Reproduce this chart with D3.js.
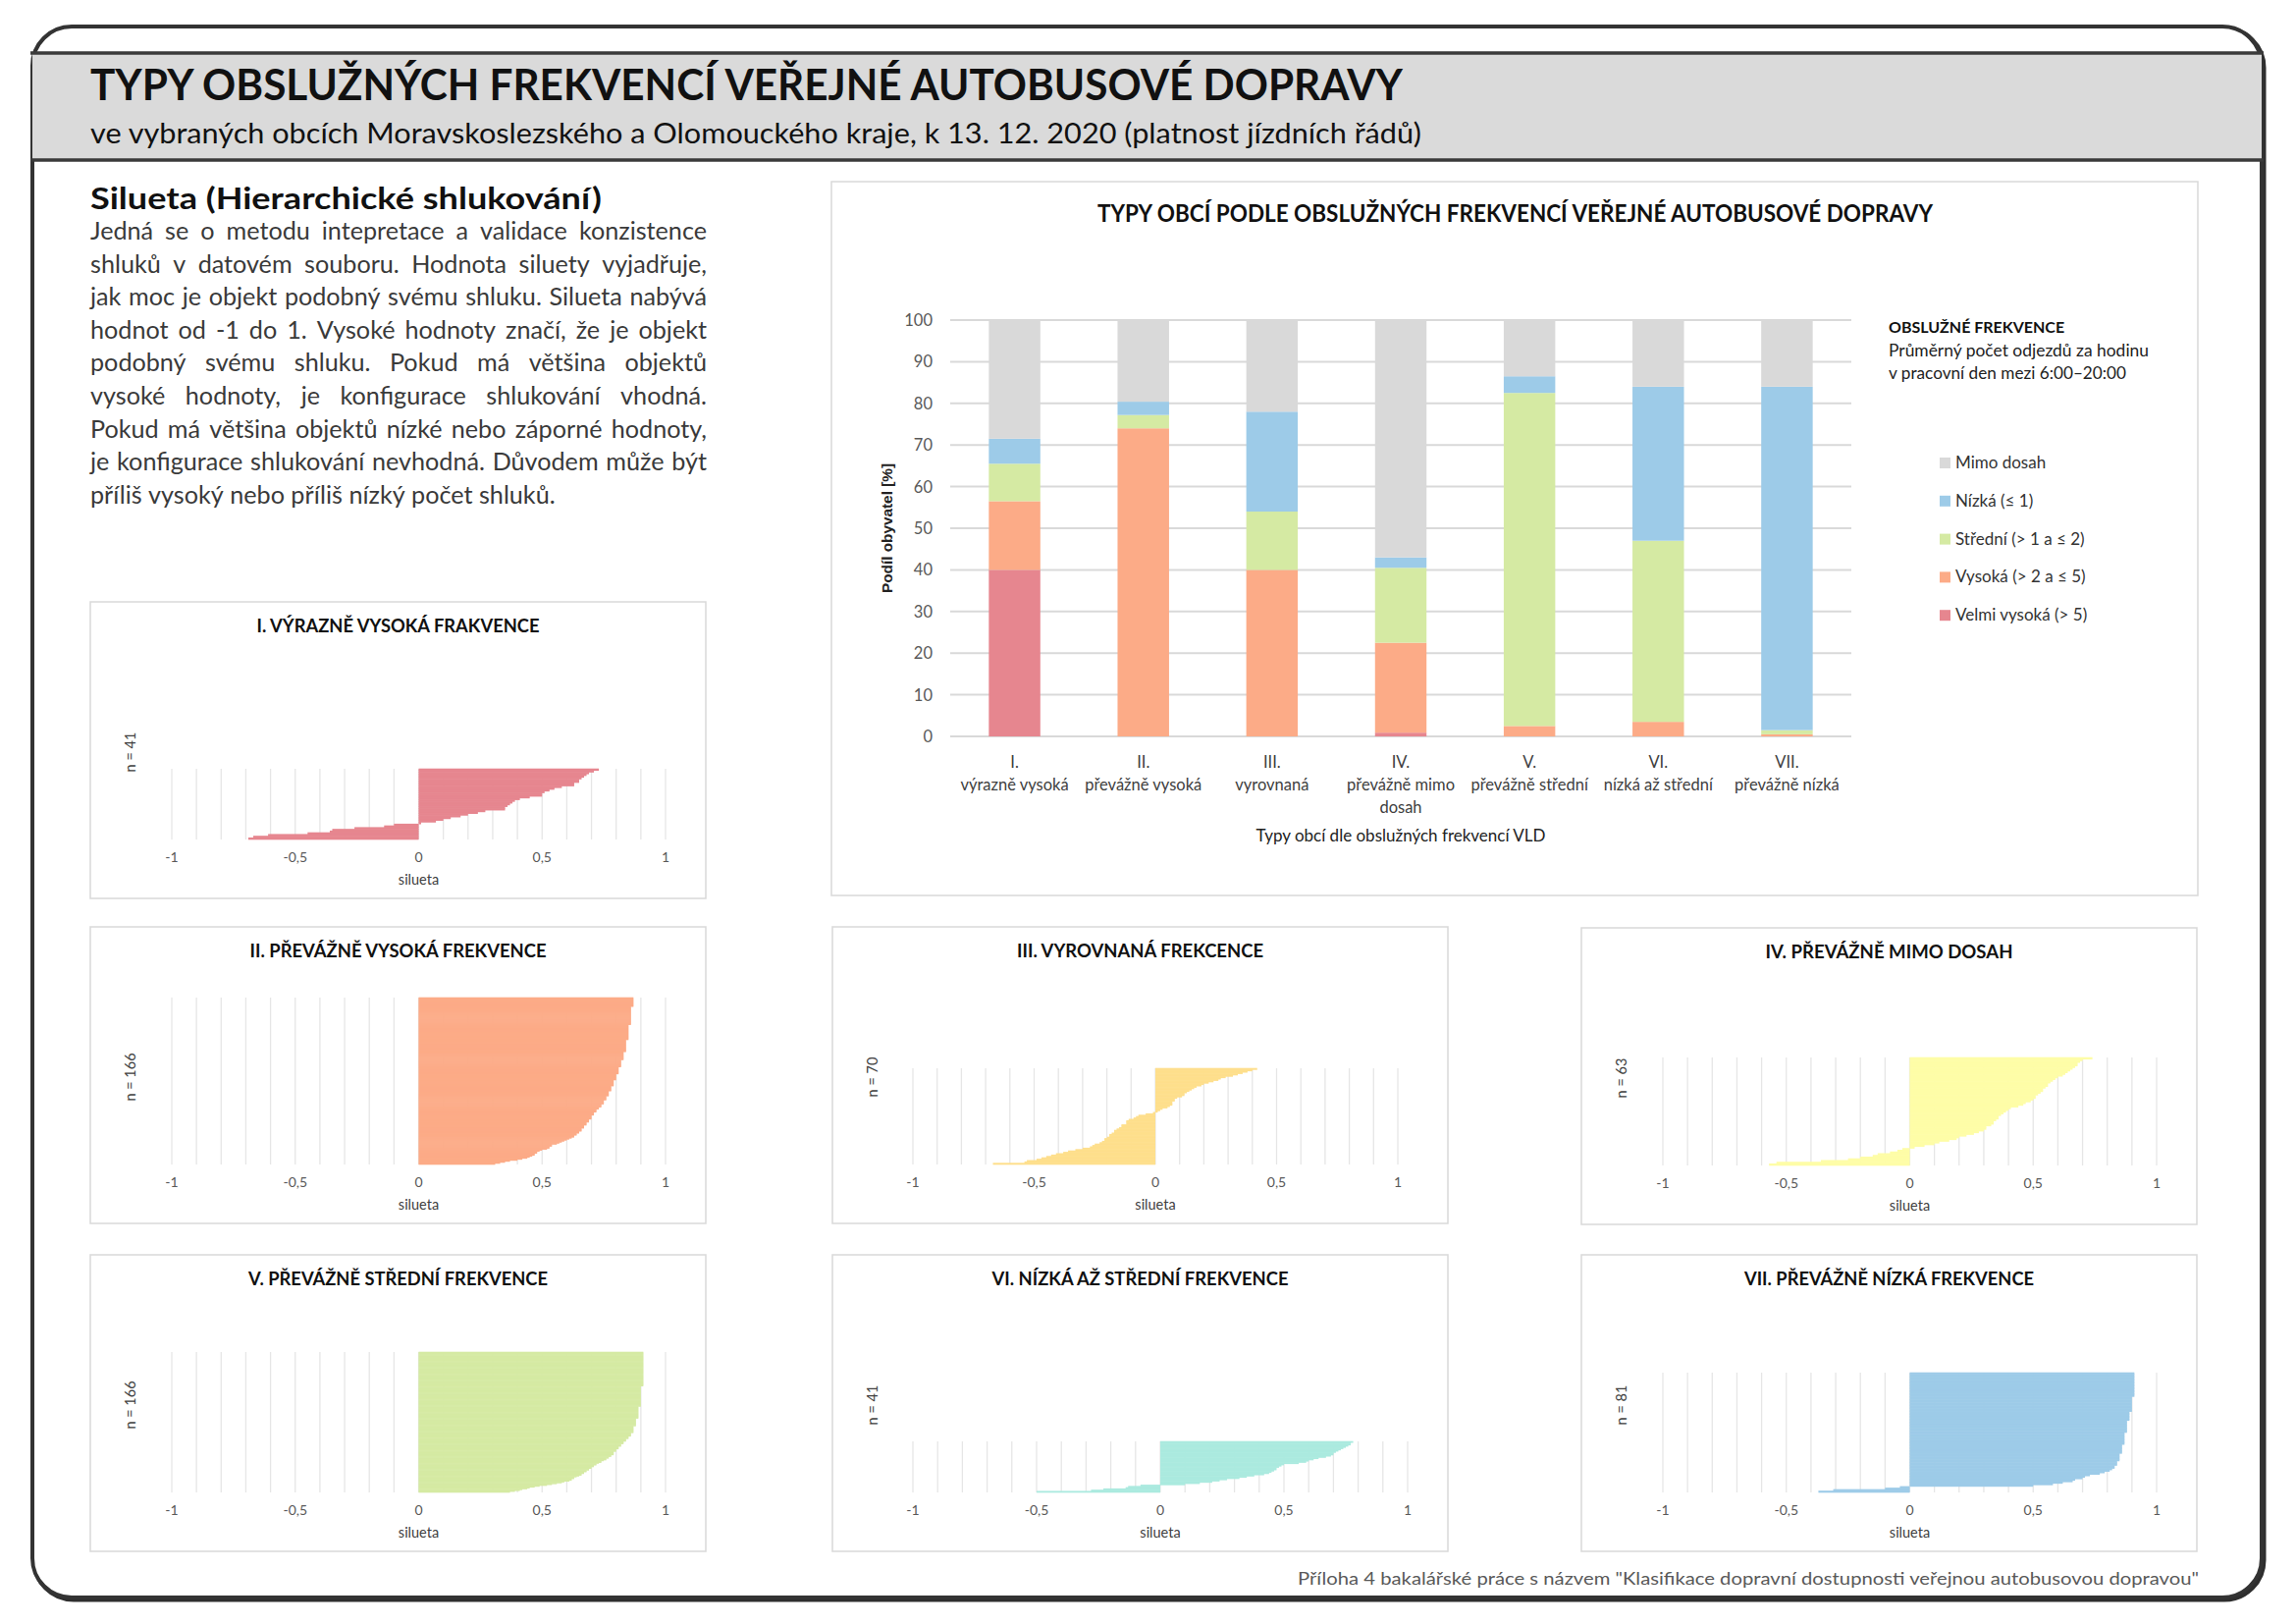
<!DOCTYPE html>
<html><head><meta charset="utf-8">
<script src="https://cdn.jsdelivr.net/npm/d3@7"></script>
<style>
body{margin:0;background:#fff}
svg{display:block}
text{font-family:Lato,'Open Sans','Noto Sans',sans-serif}
</style>
</head><body>
<svg id="c" width="2339" height="1654"></svg>
<script>
// ---------------- DATA ----------------
const headerTitle = "TYPY OBSLUŽNÝCH FREKVENCÍ VEŘEJNÉ AUTOBUSOVÉ DOPRAVY";
const headerSubtitle = "ve vybraných obcích Moravskoslezského a Olomouckého kraje, k 13. 12. 2020 (platnost jízdních řádů)";
const introTitle = "Silueta (Hierarchické shlukování)";
const introLines = [
  "Jedná se o metodu intepretace a validace konzistence",
  "shluků v datovém souboru. Hodnota siluety vyjadřuje,",
  "jak moc je objekt podobný svému shluku. Silueta nabývá",
  "hodnot od -1 do 1. Vysoké hodnoty značí, že je objekt",
  "podobný svému shluku. Pokud má většina objektů",
  "vysoké hodnoty, je konfigurace shlukování vhodná.",
  "Pokud má většina objektů nízké nebo záporné hodnoty,",
  "je konfigurace shlukování nevhodná. Důvodem může být",
  "příliš vysoký nebo příliš nízký počet shluků."
];
const footerText = 'Příloha 4 bakalářské práce s názvem "Klasifikace dopravní dostupnosti veřejnou autobusovou dopravou"';

const chartTitle = "TYPY OBCÍ PODLE OBSLUŽNÝCH FREKVENCÍ VEŘEJNÉ AUTOBUSOVÉ DOPRAVY";
const yAxisTitle = "Podíl obyvatel [%]";
const xAxisTitle = "Typy obcí dle obslužných frekvencí VLD";
const categories = ["I.", "II.", "III.", "IV.", "V.", "VI.", "VII."];
const categoryLabels = [["výrazně vysoká"], ["převážně vysoká"], ["vyrovnaná"], ["převážně mimo", "dosah"], ["převážně střední"], ["nízká až střední"], ["převážně nízká"]];
const yTicks = [0, 10, 20, 30, 40, 50, 60, 70, 80, 90, 100];

// series (bottom -> top)
const seriesNames = ["Velmi vysoká (> 5)", "Vysoká (> 2 a ≤ 5)", "Střední (> 1 a ≤ 2)", "Nízká (≤ 1)", "Mimo dosah"];
const velmiVysoka = [40, 0, 0, 0.9, 0, 0, 0];
const vysoka      = [16.5, 74, 40, 21.6, 2.5, 3.5, 0.5];
const stredni     = [9, 3.2, 14, 18, 80, 43.5, 1];
const nizka       = [6, 3.2, 24, 2.5, 4, 37, 82.5];
const mimoDosah   = [28.5, 19.6, 22, 57, 13.5, 16, 16];

const legendTitle = "OBSLUŽNÉ FREKVENCE";
const legendSubtitle = ["Průměrný počet odjezdů za hodinu", "v pracovní den mezi 6:00–20:00"];

// silhouette panels
const silTitles = ["I. VÝRAZNĚ VYSOKÁ FRAKVENCE", "II. PŘEVÁŽNĚ VYSOKÁ FREKVENCE", "III. VYROVNANÁ FREKCENCE", "IV. PŘEVÁŽNĚ MIMO DOSAH", "V. PŘEVÁŽNĚ STŘEDNÍ FREKVENCE", "VI. NÍZKÁ AŽ STŘEDNÍ FREKVENCE", "VII. PŘEVÁŽNĚ NÍZKÁ FREKVENCE"];
const silN = [41, 166, 70, 63, 166, 41, 81];
const silTicks = [-1, -0.5, 0, 0.5, 1];
const silAxisTitle = "silueta";

const silI = [-0.69, -0.67, -0.61, -0.45, -0.36, -0.35, -0.26, -0.14, -0.1,
  0.01, 0.07, 0.1, 0.13, 0.17, 0.2, 0.24, 0.27, 0.35, 0.35, 0.36, 0.37, 0.38, 0.39, 0.41, 0.45,
  0.5, 0.5, 0.51, 0.53, 0.55, 0.58, 0.63, 0.63, 0.65, 0.65, 0.66, 0.67, 0.68, 0.69, 0.71, 0.73];

const silII = [0.31, 0.33, 0.35, 0.37, 0.4, 0.42, 0.44, 0.45, 0.46, 0.47, 0.47, 0.48, 0.48,
  0.49, 0.5, 0.52, 0.53, 0.53, 0.54, 0.54, 0.56, 0.57, 0.58, 0.59, 0.6, 0.61, 0.62, 0.63,
  0.63, 0.64, 0.64, 0.65, 0.65, 0.66, 0.66, 0.66, 0.67, 0.67, 0.67, 0.68, 0.68, 0.68, 0.69, 0.69, 0.69,
  0.7, 0.7, 0.7, 0.7, 0.71, 0.71, 0.71, 0.72, 0.72, 0.72, 0.73, 0.73, 0.74, 0.74,
  0.74, 0.75, 0.75, 0.75, 0.75, 0.76, 0.76, 0.76, 0.76, 0.77, 0.77, 0.77, 0.77,
  0.77, 0.78, 0.78, 0.78, 0.78, 0.78, 0.79, 0.79, 0.79, 0.79, 0.79, 0.79, 0.8,
  0.8, 0.8, 0.8, 0.8, 0.8, 0.81, 0.81, 0.81, 0.81, 0.81, 0.81, 0.81, 0.82,
  0.82, 0.82, 0.82, 0.82, 0.82, 0.82, 0.83, 0.83, 0.83, 0.83, 0.83, 0.83, 0.83,
  0.83, 0.84, 0.84, 0.84, 0.84, 0.84, 0.84, 0.84, 0.84, 0.84, 0.84, 0.84, 0.84,
  0.85, 0.85, 0.85, 0.85, 0.85, 0.85, 0.85, 0.85, 0.85, 0.85, 0.85, 0.85, 0.85,
  0.85, 0.85, 0.86, 0.86, 0.86, 0.86, 0.86, 0.86, 0.86, 0.86, 0.86, 0.86, 0.86,
  0.86, 0.86, 0.86, 0.86, 0.86, 0.86, 0.86, 0.87, 0.87, 0.87, 0.87, 0.87, 0.87, 0.87, 0.87, 0.87];

const silIII = [-0.67, -0.54, -0.53, -0.49, -0.47, -0.45, -0.43, -0.41, -0.38, -0.36, -0.33, -0.3,
  -0.27, -0.26, -0.25, -0.23, -0.22, -0.21, -0.21, -0.2, -0.19, -0.19, -0.18, -0.17, -0.17, -0.16,
  -0.15, -0.14, -0.14, -0.12, -0.12, -0.12, -0.11, -0.09, -0.08, -0.07, -0.04, -0.01,
  0.01, 0.02, 0.03, 0.05, 0.06, 0.07, 0.07, 0.07, 0.08, 0.08, 0.09, 0.11, 0.12, 0.12, 0.13, 0.14,
  0.15, 0.16, 0.17, 0.19, 0.2, 0.22, 0.24, 0.26, 0.27, 0.29, 0.32, 0.34, 0.36, 0.38, 0.4, 0.42];

const silIV = [-0.57, -0.54, -0.36, -0.25, -0.2, -0.15, -0.13, -0.08, -0.05, -0.03,
  0.02, 0.06, 0.1, 0.12, 0.16, 0.19, 0.2, 0.23, 0.26, 0.28, 0.3, 0.31, 0.31, 0.33, 0.34, 0.34,
  0.35, 0.36, 0.36, 0.37, 0.38, 0.39, 0.4, 0.41, 0.44, 0.46, 0.47, 0.49, 0.5, 0.51, 0.51, 0.52,
  0.53, 0.54, 0.54, 0.55, 0.56, 0.56, 0.57, 0.58, 0.59, 0.6, 0.62, 0.63, 0.64, 0.65, 0.66, 0.67,
  0.68, 0.68, 0.69, 0.7, 0.74];

const silV = [0.37, 0.39, 0.41, 0.42, 0.44, 0.45, 0.47, 0.49, 0.52, 0.54, 0.56, 0.58, 0.59,
  0.61, 0.62, 0.62, 0.63, 0.63, 0.64, 0.65, 0.66, 0.66, 0.67, 0.67, 0.68, 0.68, 0.69, 0.69, 0.7,
  0.7, 0.71, 0.71, 0.72, 0.72, 0.73, 0.74, 0.74, 0.75, 0.76, 0.76, 0.77, 0.77, 0.78,
  0.78, 0.79, 0.79, 0.79, 0.79, 0.8, 0.8, 0.8, 0.81, 0.81,
  0.81, 0.82, 0.82, 0.82, 0.83, 0.83, 0.83, 0.84, 0.84, 0.84, 0.85, 0.85,
  0.85, 0.86, 0.86, 0.86, 0.86, 0.87, 0.87, 0.87, 0.87, 0.87, 0.87,
  0.87, 0.87, 0.88, 0.88, 0.88, 0.88, 0.88, 0.88, 0.88, 0.88, 0.88, 0.89, 0.89, 0.89, 0.89, 0.89,
  0.89, 0.89, 0.89, 0.89, 0.89, 0.89, 0.89, 0.89, 0.89, 0.9, 0.9, 0.9, 0.9, 0.9, 0.9,
  0.9, 0.9, 0.9, 0.9, 0.9, 0.9, 0.9, 0.9, 0.9, 0.9, 0.9, 0.9, 0.9, 0.9, 0.9, 0.9,
  0.9, 0.9, 0.91, 0.91, 0.91, 0.91, 0.91, 0.91, 0.91, 0.91, 0.91, 0.91, 0.91, 0.91, 0.91,
  0.91, 0.91, 0.91, 0.91, 0.91, 0.91, 0.91, 0.91, 0.91, 0.91, 0.91, 0.91, 0.91, 0.91,
  0.91, 0.91, 0.91, 0.91, 0.91, 0.91, 0.91, 0.91, 0.91, 0.91, 0.91, 0.91, 0.91];

const silVI = [-0.5, -0.28, -0.23, -0.14, -0.13, -0.08,
  0.1, 0.16, 0.21, 0.24, 0.27, 0.32, 0.35, 0.38, 0.42, 0.44, 0.45, 0.46, 0.47, 0.47, 0.48, 0.49,
  0.5, 0.56, 0.59, 0.6, 0.62, 0.64, 0.67, 0.69, 0.7, 0.7, 0.71, 0.72, 0.73, 0.74, 0.75, 0.76,
  0.77, 0.77, 0.78];

const silVII = [-0.37, -0.31, -0.1, -0.04,
  0.5, 0.58, 0.62, 0.66, 0.67, 0.7, 0.71, 0.73, 0.77, 0.79, 0.81, 0.82, 0.83, 0.83, 0.84, 0.84,
  0.84, 0.85, 0.85, 0.85, 0.85, 0.85, 0.86, 0.86, 0.86, 0.86, 0.86, 0.86, 0.87, 0.87, 0.87, 0.87,
  0.87, 0.87, 0.87, 0.87, 0.88, 0.88, 0.88, 0.88, 0.88, 0.88, 0.88, 0.88, 0.89, 0.89, 0.89, 0.89,
  0.89, 0.89, 0.9, 0.9, 0.9, 0.9, 0.9, 0.9, 0.9, 0.9, 0.9, 0.9, 0.91, 0.91, 0.91, 0.91, 0.91,
  0.91, 0.91, 0.91, 0.91, 0.91, 0.91, 0.91, 0.91, 0.91, 0.91, 0.91];

// ---------------- STYLE / LAYOUT ----------------
const seriesColors = ["#e6868f", "#fcab87", "#d5eaa3", "#9dcbe8", "#d9d9d9"];
const silColors = ["#e6868f", "#fcab87", "#fedf8c", "#fefda7", "#d5eaa3", "#abeadf", "#9dcbe8"];
const silData = [silI, silII, silIII, silIV, silV, silVI, silVII];
const silLayout = [
  {x: 92, y: 613, x0: 83, x1: 586, top: 170, tw: 288},
  {x: 92, y: 944, x0: 83, x1: 586, top: 72, tw: 302},
  {x: 848, y: 944, x0: 82, x1: 576, top: 144, tw: 251},
  {x: 1611, y: 945, x0: 83, x1: 586, top: 132, tw: 252},
  {x: 92, y: 1278, x0: 83, x1: 586, top: 99, tw: 305},
  {x: 848, y: 1278, x0: 82, x1: 586, top: 190, tw: 302},
  {x: 1611, y: 1278, x0: 83, x1: 586, top: 120, tw: 295}
];

const svg = d3.select("#c");
function fitW(t, w) { return t.attr("textLength", w).attr("lengthAdjust", "spacingAndGlyphs"); }
function measure(str, fs, weight) {
  const t = svg.append("text").attr("font-size", fs).attr("font-weight", weight || 400).text(str);
  const w = t.node().getComputedTextLength(); t.remove(); return w;
}

// outer frame (with slight bottom-right shadow)
svg.append("rect").attr("x", 35).attr("y", 29).attr("width", 2271).attr("height", 1600)
  .attr("rx", 40).attr("fill", "none").attr("stroke", "#2e2e2e").attr("stroke-width", 5);
svg.append("rect").attr("x", 33).attr("y", 27).attr("width", 2271).attr("height", 1600)
  .attr("rx", 40).attr("fill", "#fff").attr("stroke", "#333").attr("stroke-width", 4);

// header band
svg.append("rect").attr("x", 33).attr("y", 54).attr("width", 2271).attr("height", 109).attr("fill", "#dadada");
svg.append("line").attr("x1", 31).attr("x2", 2306).attr("y1", 54).attr("y2", 54).attr("stroke", "#3a3a3a").attr("stroke-width", 3.5);
svg.append("line").attr("x1", 31).attr("x2", 2306).attr("y1", 163).attr("y2", 163).attr("stroke", "#3a3a3a").attr("stroke-width", 3.5);
fitW(svg.append("text").attr("x", 92).attr("y", 102).attr("font-size", 43).attr("font-weight", 700).attr("fill", "#111").text(headerTitle), 1337);
fitW(svg.append("text").attr("x", 92).attr("y", 146).attr("font-size", 28.5).attr("fill", "#111").text(headerSubtitle), 1356);

// intro
fitW(svg.append("text").attr("x", 92).attr("y", 213).attr("font-size", 31).attr("font-weight", 700).attr("fill", "#111").text(introTitle), 521);
(function () {
  const px = 92, pw = 628, y0 = 244, lh = 33.6;
  let fs = 24 * 472 / measure(introLines[introLines.length - 1], 24);
  const maxW = d3.max(introLines, l => measure(l, fs));
  if (maxW > pw) fs *= pw / maxW;
  const spaceW = measure("a a", fs) - measure("aa", fs);
  const g = svg.append("g").attr("fill", "#3a3a3a").attr("font-size", fs);
  introLines.forEach((line, li) => {
    const words = line.split(" ");
    const ws = words.map(w => measure(w, fs));
    const last = li === introLines.length - 1;
    const gap = last ? spaceW : (pw - d3.sum(ws)) / (words.length - 1);
    let x = px;
    words.forEach((w, i) => {
      g.append("text").attr("x", x).attr("y", y0 + li * lh).text(w);
      x += ws[i] + gap;
    });
  });
})();

// ---------------- MAIN STACKED CHART ----------------
svg.append("rect").attr("x", 847).attr("y", 185).attr("width", 1392).attr("height", 727)
  .attr("fill", "#fff").attr("stroke", "#d9d9d9").attr("stroke-width", 1.5);
fitW(svg.append("text").attr("x", 1543 - 425).attr("y", 226).attr("font-size", 24).attr("font-weight", 700).attr("fill", "#111").text(chartTitle), 851);

const table = categories.map((c, i) => ({cat: c, s0: velmiVysoka[i], s1: vysoka[i], s2: stredni[i], s3: nizka[i], s4: mimoDosah[i]}));
const keys = ["s0", "s1", "s2", "s3", "s4"];
const stacked = d3.stack().keys(keys)(table);
const xB = d3.scaleBand().domain(categories).range([968, 1886]).paddingInner(0.6).paddingOuter(0.3);
const yL = d3.scaleLinear().domain([0, 100]).range([750, 326]);

const mg = svg.append("g");
mg.selectAll("line.grid").data(yTicks).join("line")
  .attr("x1", 968).attr("x2", 1886).attr("y1", d => yL(d)).attr("y2", d => yL(d))
  .attr("stroke", "#d9d9d9").attr("stroke-width", 2);
mg.selectAll("text.yt").data(yTicks).join("text")
  .attr("x", 950).attr("y", d => yL(d) + 6).attr("text-anchor", "end")
  .attr("font-size", 16.5).attr("fill", "#595959").text(d => d);

stacked.forEach((layer, li) => {
  mg.append("g").attr("fill", seriesColors[li]).selectAll("rect").data(layer).join("rect")
    .attr("x", d => xB(d.data.cat)).attr("width", xB.bandwidth())
    .attr("y", d => yL(d[1])).attr("height", d => Math.max(0, yL(d[0]) - yL(d[1])));
});

categories.forEach((c, i) => {
  const cx = xB(c) + xB.bandwidth() / 2;
  mg.append("text").attr("x", cx).attr("y", 782).attr("text-anchor", "middle").attr("font-size", 16.5).attr("fill", "#404040").text(c);
  categoryLabels[i].forEach((l, j) => {
    mg.append("text").attr("x", cx).attr("y", 805 + j * 23).attr("text-anchor", "middle").attr("font-size", 16.5).attr("fill", "#404040").text(l);
  });
});
mg.append("text").attr("x", 1427).attr("y", 857).attr("text-anchor", "middle").attr("font-size", 17).attr("fill", "#222").text(xAxisTitle);
fitW(mg.append("text").attr("transform", "translate(909,604) rotate(-90)").attr("x", 0).attr("y", 0)
  .attr("font-size", 14.5).attr("font-weight", 700).style("font-family", "'Liberation Sans',Arial,sans-serif")
  .attr("fill", "#222").text(yAxisTitle), 132);

// legend
const lg = svg.append("g");
lg.append("text").attr("x", 1924).attr("y", 339).attr("font-size", 16).attr("font-weight", 700).attr("fill", "#111").text(legendTitle);
legendSubtitle.forEach((l, i) => {
  fitW(lg.append("text").attr("x", 1924).attr("y", 363 + i * 23).attr("font-size", 16.5).attr("fill", "#222").text(l), i === 0 ? 265 : 242);
});
const legendOrder = [4, 3, 2, 1, 0];
legendOrder.forEach((si, k) => {
  const y = 477 + k * 38.8;
  lg.append("rect").attr("x", 1976).attr("y", y - 11).attr("width", 11).attr("height", 11).attr("fill", seriesColors[si]);
  lg.append("text").attr("x", 1992).attr("y", y).attr("font-size", 17).attr("fill", "#333").text(seriesNames[si]);
});

// ---------------- SILHOUETTE PANELS ----------------
const csLocale = d3.formatLocale({decimal: ",", thousands: " ", grouping: [3], currency: ["", " Kč"], minus: "-"});
const fmt = csLocale.format("");
silData.forEach((vals, pi) => {
  const L = silLayout[pi];
  const g = svg.append("g").attr("transform", `translate(${L.x},${L.y})`);
  g.append("rect").attr("width", 627).attr("height", 302).attr("fill", "#fff").attr("stroke", "#d9d9d9").attr("stroke-width", 1.5);
  const x = d3.scaleLinear().domain([-1, 1]).range([L.x0, L.x1]);
  const y = d3.scaleBand().domain(d3.range(vals.length)).range([242, L.top]);
  g.selectAll("line.grid").data(x.ticks(20)).join("line")
    .attr("x1", d => x(d)).attr("x2", d => x(d)).attr("y1", L.top).attr("y2", 242)
    .attr("stroke", "#e6e6e6").attr("stroke-width", 1.3);
  g.append("g").attr("fill", silColors[pi]).selectAll("rect").data(vals).join("rect")
    .attr("x", d => x(Math.min(0, d))).attr("width", d => Math.abs(x(d) - x(0)))
    .attr("y", (d, i) => y(i) - 0.3).attr("height", y.bandwidth() + 0.6);
  g.selectAll("text.tick").data(silTicks).join("text")
    .attr("x", d => x(d)).attr("y", 265).attr("text-anchor", "middle")
    .attr("font-size", 14).attr("fill", "#595959").text(d => fmt(d));
  g.append("text").attr("x", x(0)).attr("y", 288).attr("text-anchor", "middle").attr("font-size", 14.5).attr("fill", "#404040").text(silAxisTitle);
  g.append("text").attr("transform", `translate(46,153) rotate(-90)`).attr("text-anchor", "middle")
    .attr("font-size", 14.5).attr("fill", "#404040").text("n = " + silN[pi]);
  fitW(g.append("text").attr("x", 313.5 - L.tw / 2).attr("y", 31).attr("font-size", 19.5).attr("font-weight", 700).attr("fill", "#111").text(silTitles[pi]), L.tw);
});

// footer
fitW(svg.append("text").attr("x", 1322).attr("y", 1614).attr("font-size", 18).attr("fill", "#595959").text(footerText), 918);
</script>
</body></html>
